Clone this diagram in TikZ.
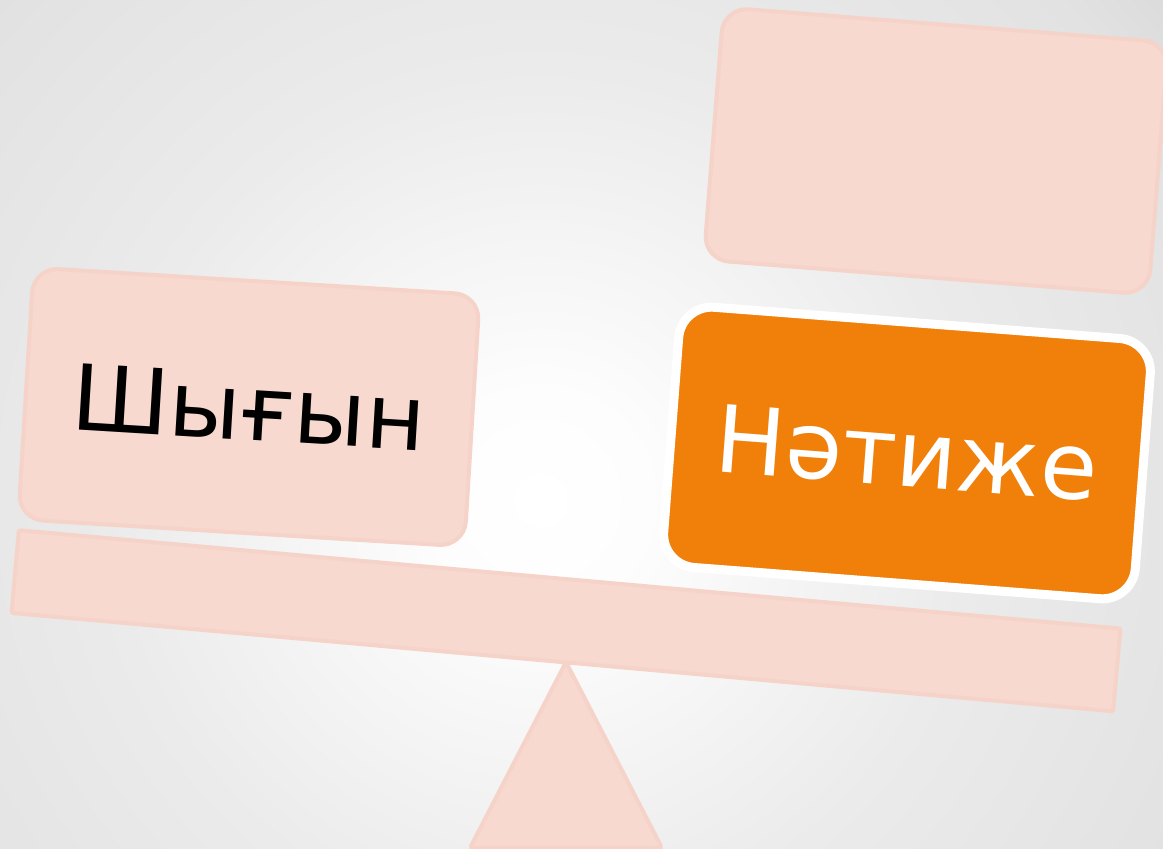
\documentclass[tikz,border=0pt]{standalone}
\usepackage{fontspec}
\newfontfamily\dejavu{DejaVu Sans}
\definecolor{pinkfill}{RGB}{247,217,207}
\definecolor{pinkline}{RGB}{246,211,200}
\definecolor{orangefill}{RGB}{240,128,10}
\definecolor{bgA}{RGB}{253,253,253}
\definecolor{bgB}{RGB}{235,235,235}
\definecolor{bgC}{RGB}{226,226,226}
\definecolor{bgD}{RGB}{220,220,220}
\definecolor{bgE}{RGB}{210,210,210}
\definecolor{bgF}{RGB}{200,200,200}
\pgfdeclareradialshading{bgglow}{\pgfpoint{0bp}{0bp}}{color(0bp)=(white); color(3bp)=(bgA); color(12bp)=(bgB); color(20bp)=(bgC); color(22bp)=(bgD); color(24bp)=(bgE); color(26bp)=(bgF); color(50bp)=(bgF)}
\tikzset{
  pinkpart/.style={fill=pinkfill, draw=pinkline, line width=4},
  card/.style={pinkpart, rounded corners=25, minimum width=447, minimum height=252, inner sep=0, outer sep=0},
  hotcard/.style={fill=orangefill, draw=white, line width=9, rounded corners=33, minimum width=473, minimum height=261, inner sep=0, outer sep=0},
  cardtext/.style={font=\dejavu\fontsize{91}{91}\selectfont}
}
\begin{document}
\begin{tikzpicture}[x=1pt,y=1pt]
\useasboundingbox (0,0) rectangle (1163,849);
% soft radial glow behind the scale
\begin{scope}
  \clip (0,0) rectangle (1163,849);
  \fill[bgF] (0,0) rectangle (1163,849);
  \fill[shading=bgglow] (540,349) circle (900);
\end{scope}
% fulcrum
\filldraw[pinkpart, rounded corners=3] (566,187) coordinate (apex) -- (662,1) -- (470,1) -- cycle;
% tilted beam
\node[pinkpart, rounded corners=2, rotate=-5.1, minimum width=1106, minimum height=83, inner sep=0] (beam) at (566,228.25) {};
% pans
\node[card, rotate=-3.5, cardtext, text=black] (cost) at (249,442) {Шығын};
\node[card, rotate=-4.5, minimum width=446, minimum height=253] (spare) at (936,698) {};
\node[hotcard, rotate=-4.4, text=white, font=\dejavu\fontsize{93}{93}\selectfont] (result) at (907,396) {Нәтиже};
\end{tikzpicture}
\end{document}
